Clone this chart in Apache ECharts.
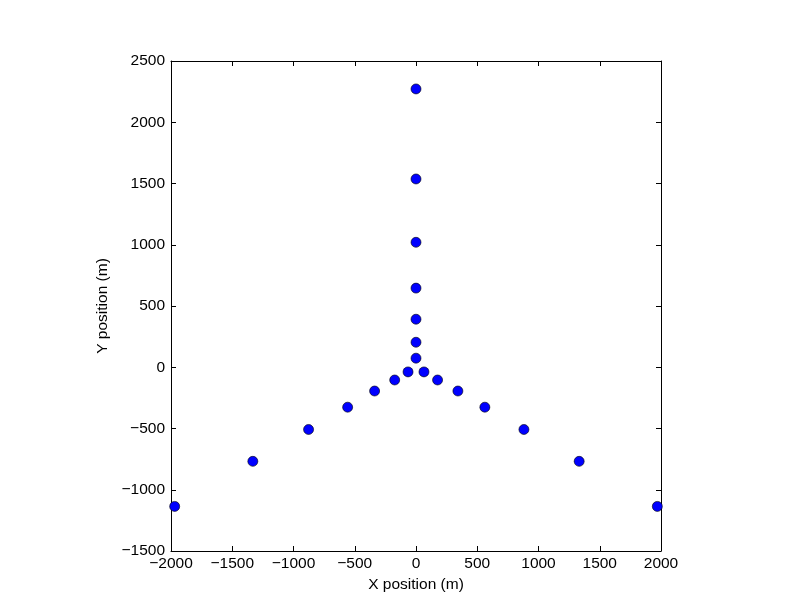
<!DOCTYPE html>
<html><head><meta charset="utf-8">
<script src="https://cdn.jsdelivr.net/npm/echarts@6/dist/echarts.min.js"></script>
<style>html,body{margin:0;padding:0;background:#fff}#c{width:812px;height:612px}</style>
</head><body><div id="c"></div>
<script>
const xPos = [0, 0, 0, 0, 0, 0, 0, -65, 65, -174, 176, -338, 342, -558, 562, -877, 881, -1332, 1332, -1970, 1970];
const yPos = [2272, 1537, 1020, 646, 392, 204, 74, -38, -38, -104, -104, -194, -194, -326, -326, -508, -508, -768, -768, -1136, -1136];
const xTicks = [-2000, -1500, -1000, -500, 0, 500, 1000, 1500, 2000];
const yTicks = [-1500, -1000, -500, 0, 500, 1000, 1500, 2000, 2500];

const pts = xPos.map((x, i) => [x, yPos[i]]);
const fmt = v => String(v).replace('-', '\u2212');
const font = 'Liberation Sans, Arial, sans-serif';
const lineStyle = {color: '#000', width: 1};
function axisBase(extra) {
  return Object.assign({
    type: 'value', interval: 500,
    axisLine: {show: true, onZero: false, lineStyle},
    axisTick: {show: true, inside: true, length: 5, lineStyle},
    splitLine: {show: false}
  }, extra);
}
const chart = echarts.init(document.getElementById('c'));
chart.setOption({
  backgroundColor: '#fff',
  animation: false,
  grid: {left: 171, top: 61, width: 490, height: 490, containLabel: false},
  xAxis: [
    axisBase({min: xTicks[0], max: xTicks[xTicks.length-1], position: 'bottom',
      name: 'X position (m)', nameLocation: 'middle', nameGap: 26,
      nameTextStyle: {fontFamily: font, fontSize: 15.5, color: '#000'},
      axisLabel: {formatter: fmt, margin: 5, fontFamily: font, fontSize: 15.5, color: '#000'}}),
    axisBase({min: xTicks[0], max: xTicks[xTicks.length-1], position: 'top', axisLabel: {show: false}})
  ],
  yAxis: [
    axisBase({min: yTicks[0], max: yTicks[yTicks.length-1], position: 'left',
      name: 'Y position (m)', nameLocation: 'middle', nameGap: 58,
      nameTextStyle: {fontFamily: font, fontSize: 15.5, color: '#000'},
      axisLabel: {formatter: fmt, margin: 6, fontFamily: font, fontSize: 15.5, color: '#000'}}),
    axisBase({min: yTicks[0], max: yTicks[yTicks.length-1], position: 'right', axisLabel: {show: false}})
  ],
  series: [{
    type: 'scatter', data: pts, symbol: 'circle', symbolSize: 10,
    itemStyle: {color: '#0000ff', opacity: 1, borderColor: '#000', borderWidth: 0.6}
  }]
});
</script></body></html>
